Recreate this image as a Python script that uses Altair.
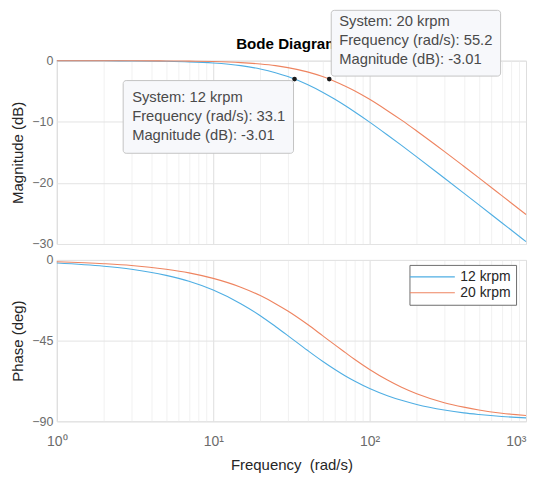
import altair as alt
import pandas as pd

# ---- data ----
freq = [1, 2, 3, 5, 7, 10, 15, 20, 25, 30, 40, 50, 60, 70, 80, 100, 130, 160, 200, 300, 400, 500, 700, 1000]
systems = ["12 krpm", "20 krpm"]
mag_12 = [0.00, -0.02, -0.04, -0.10, -0.19, -0.38, -0.81, -1.35, -1.96, -2.60, -3.91, -5.16, -6.32,
          -7.38, -8.35, -10.05, -12.16, -13.87, -15.74, -19.20, -21.67, -23.60, -26.52, -29.61]
mag_20 = [0.00, -0.01, -0.01, -0.04, -0.07, -0.14, -0.31, -0.54, -0.81, -1.13, -1.83, -2.60, -3.39,
          -4.17, -4.91, -6.32, -8.18, -9.73, -11.50, -14.84, -17.28, -19.19, -22.09, -25.17]
phase_12 = [-1.7, -3.5, -5.2, -8.6, -11.9, -16.8, -24.4, -31.1, -37.1, -42.2, -50.4, -56.5, -61.1,
            -64.7, -67.5, -71.7, -75.7, -78.3, -80.6, -83.7, -85.3, -86.2, -87.3, -88.1]
phase_20 = [-1.0, -2.1, -3.1, -5.2, -7.2, -10.3, -15.2, -19.9, -24.4, -28.5, -35.9, -42.2, -47.4,
            -51.7, -55.4, -61.1, -67.0, -71.0, -74.6, -79.6, -82.1, -83.7, -85.5, -86.8]

ann_system = ["12 krpm", "20 krpm"]
ann_freq = [33.1, 55.2]
ann_mag = [-3.01, -3.01]

title_text = "Bode Diagram"
mag_ticks = [0, -10, -20, -30]
phase_ticks = [0, -45, -90]
x_label_map = {1: "10⁰", 10: "10¹", 100: "10²", 1000: "10³"}

# ---- tables ----
df = pd.DataFrame({
    "freq": freq * 2,
    "system": [systems[0]] * len(freq) + [systems[1]] * len(freq),
    "mag": mag_12 + mag_20,
    "phase": phase_12 + phase_20,
})
ann = pd.DataFrame({"system": ann_system, "freq": ann_freq, "mag": ann_mag})
ann["label"] = [
    f"System: {s}\nFrequency (rad/s): {f}\nMagnitude (dB): {m:.2f}"
    for s, f, m in zip(ann_system, ann_freq, ann_mag)
]

FONT = "Liberation Sans"
W, H1, H2 = 471, 184, 162
colors = ["#4FAEE3", "#EE8460"]

x_vals = [m * 10 ** k for k in range(3) for m in range(1, 10)] + [1000]
major_test = "indexof([1,10,100,1000], datum.value) >= 0"
grid_color = {"condition": {"test": major_test, "value": "#dedede"}, "value": "#f1f1f1"}
label_expr = " : ".join(
    f"datum.value == {k} ? '{v}'" for k, v in x_label_map.items()
) + " : ''"
label_align = {"condition": {"test": "datum.value == 1000", "value": "right"}, "value": "center"}

xscale = alt.Scale(type="log", domain=[1, 1000], nice=False)

x_top = alt.X("freq:Q", scale=xscale,
              axis=alt.Axis(values=x_vals, labels=False, ticks=False, domain=False,
                            title=None, gridColor=grid_color))
x_bot = alt.X("freq:Q", scale=xscale,
              axis=alt.Axis(values=x_vals, labelExpr=label_expr, ticks=False, domain=False,
                            labelFlush=False, labelAlign=label_align,
                            title="Frequency \u00a0(rad/s)", gridColor=grid_color,
                            labelFontSize=14, labelColor="#6b6b6b", labelPadding=13,
                            titleFontSize=15, titleFontWeight="normal", titleColor="#262626",
                            titlePadding=9, labelFont=FONT, titleFont=FONT))

yaxis_common = dict(ticks=False, domain=False, gridColor="#e3e3e3", labelFontSize=12.5,
                    labelColor="#6b6b6b", labelPadding=4, titleFontSize=15,
                    titleFontWeight="normal", titleColor="#262626", titlePadding=6,
                    labelFont=FONT, titleFont=FONT)

mag_lines = alt.Chart(df).mark_line(strokeWidth=1.1, interpolate="monotone").encode(
    x=x_top,
    y=alt.Y("mag:Q", scale=alt.Scale(domain=[-30, 0], nice=False),
            axis=alt.Axis(values=mag_ticks, title="Magnitude (dB)", **yaxis_common)),
    color=alt.Color("system:N", scale=alt.Scale(domain=systems, range=colors), legend=None),
)

title_layer = alt.Chart(pd.DataFrame({"t": [title_text]})).mark_text(
    font=FONT, fontSize=15.2, fontWeight="bold", color="#000000", baseline="middle"
).encode(text="t:N", x=alt.value(W / 2 - 4), y=alt.value(-17))

layers = [mag_lines, title_layer]
# annotation boxes: (xOffset, x2Offset, yOffset, y2Offset, text dx, text dy of block top)
box_geo = [(-172, -1, 1.5, 74.5, -163, 11.5), (2, 172, -69, -3, 10, -65)]
for i, (xo, x2o, yo, y2o, tdx, tdy) in enumerate(box_geo):
    sub = ann.iloc[[i]]
    box = alt.Chart(sub).mark_rect(
        fill="#f7f8fb", stroke="#c4c4c4", strokeWidth=1, cornerRadius=3,
        xOffset=xo, x2Offset=x2o, yOffset=yo, y2Offset=y2o,
    ).encode(x="freq:Q", x2="freq", y="mag:Q", y2="mag")
    txt = alt.Chart(sub).mark_text(
        font=FONT, fontSize=14.8, color="#4a4a4a", align="left", baseline="top",
        lineBreak="\n", lineHeight=19, dx=tdx, dy=tdy,
    ).encode(x="freq:Q", y="mag:Q", text="label:N")
    layers += [box, txt]

dots = alt.Chart(ann).mark_point(filled=True, size=22, color="#1a1a1a", opacity=1).encode(
    x="freq:Q", y="mag:Q")
layers.append(dots)

top = alt.layer(*layers).properties(width=W, height=H1)

phase_lines = alt.Chart(df).mark_line(strokeWidth=1.1, interpolate="monotone").encode(
    x=x_bot,
    y=alt.Y("phase:Q", scale=alt.Scale(domain=[-90, 0], nice=False),
            axis=alt.Axis(values=phase_ticks, title="Phase (deg)", **yaxis_common)),
    color=alt.Color("system:N", scale=alt.Scale(domain=systems, range=colors),
                    legend=alt.Legend(title=None, orient="none", legendX=354, legendY=5,
                                      symbolType="M-4,0H4", symbolSize=127,
                                      symbolStrokeWidth=1.1, symbolOffset=11,
                                      labelFont=FONT, labelFontSize=14,
                                      labelColor="#262626", labelLimit=200,
                                      labelOffset=21, rowPadding=2,
                                      padding=5, fillColor="#ffffff",
                                      strokeColor="#6e6e6e")),
)
bottom = phase_lines.properties(width=W, height=H2)

chart = alt.vconcat(top, bottom, spacing=2).resolve_scale(color="shared").resolve_legend(
    color="independent"
).properties(padding={"left": 2, "top": 0, "right": 2, "bottom": 0}).configure_view(
    stroke="#a3a3a3"
).configure(background="#ffffff")

chart.save("out.html", embed_options={"renderer": "svg", "actions": False})
